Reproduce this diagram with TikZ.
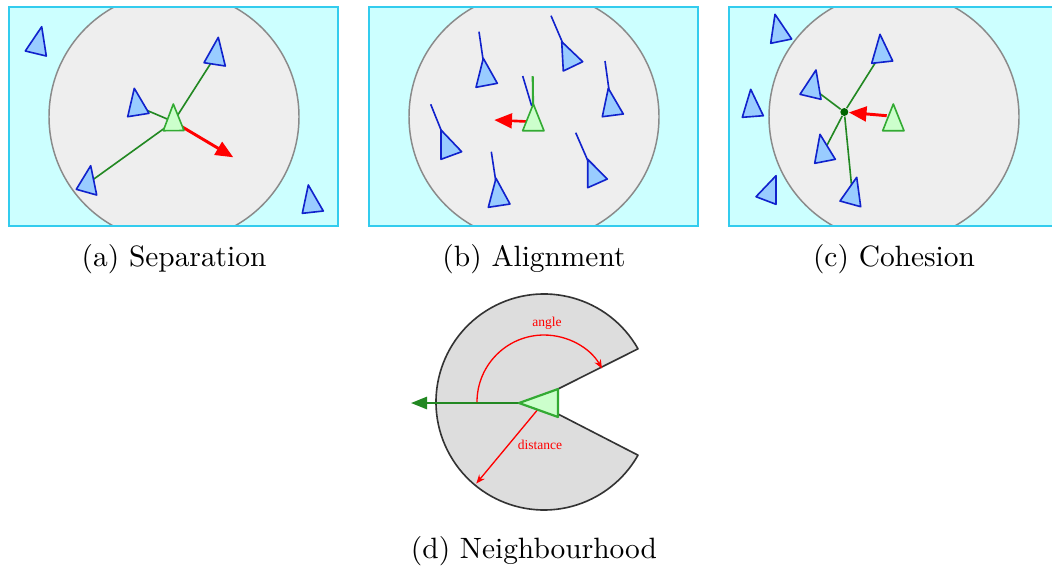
\documentclass[tikz,border=0pt]{standalone}
\usepackage{fontspec}
\newfontfamily\labelfont{Liberation Serif}
\usetikzlibrary{arrows.meta}
\definecolor{bgcyan}{HTML}{CCFFFF}
\definecolor{bordercyan}{HTML}{33CCEE}
\definecolor{circfill}{HTML}{EEEEEE}
\definecolor{circline}{HTML}{8A8A8A}
\definecolor{boidfill}{HTML}{99CCFF}
\definecolor{boidline}{HTML}{1122CC}
\definecolor{gboidfill}{HTML}{CCFFCC}
\definecolor{gboidline}{HTML}{33AA33}
\definecolor{linkgreen}{HTML}{228822}
\definecolor{dotgreen}{HTML}{006600}
\definecolor{pacfill}{HTML}{DDDDDD}
\definecolor{pacline}{HTML}{333333}
\tikzset{
  panelborder/.style={draw=bordercyan, line width=0.7pt},
  zone/.style={fill=circfill, draw=circline, line width=0.5pt},
  boid/.style={fill=boidfill, draw=boidline, line width=0.55pt, line join=round},
  me/.style={fill=gboidfill, draw=gboidline, line width=0.55pt, line join=round},
  link/.style={draw=linkgreen, line width=0.55pt},
  tail/.style={draw=boidline, line width=0.55pt},
  steer/.style={draw=red, line width=1pt, -{Triangle[length=6pt,width=5pt]}},
  heading/.style={draw=linkgreen, line width=0.7pt, -{Triangle[length=5.5pt,width=4.2pt]}},
  measure/.style={draw=red, line width=0.45pt, -{Stealth[length=3pt,width=2.4pt]}},
  pac/.style={fill=pacfill, draw=pacline, line width=0.55pt, line join=round},
  lbl/.style={text=red, font=\labelfont\fontsize{4.6}{5}\selectfont, inner sep=0pt},
  captext/.style={anchor=base, inner sep=0pt, font=\fontsize{10}{12}\selectfont},
}
\begin{document}
\begin{tikzpicture}[x=0.34pt,y=-0.34pt]
\useasboundingbox (0,0) rectangle (1052,568);

% ---------- (a) Separation ----------
\begin{scope}
  \clip (9.3,7.3) rectangle (338,226);
  \fill[bgcyan] (9.3,7.3) rectangle (338,226);
  \draw[zone] (174,116.7) circle[radius=125];
\end{scope}
\draw[panelborder] (9.3,7.3) rectangle (338,226);
\coordinate (ga) at (173.5,121.7);
\coordinate (a2) at (215.9,55.3);
\coordinate (a3) at (137,106.1);
\coordinate (a4) at (87.9,183.3);
\coordinate (gat) at (233.3,157.3);
\draw[link] (ga) -- (a2);
\draw[link] (ga) -- (a3);
\draw[link] (ga) -- (a4);
\draw[steer] (ga) -- (gat);
\draw[boid] (41.7,26.7) -- (25.3,51) -- (46.3,56) -- cycle;
\draw[boid] (218.3,37.3) -- (204,62.7) -- (225.3,66) -- cycle;
\draw[boid] (134.3,88.3) -- (127.7,116.7) -- (149,113.3) -- cycle;
\draw[boid] (90.7,165.7) -- (76.3,189.3) -- (96.7,195) -- cycle;
\draw[boid] (308.3,185) -- (302.3,213.3) -- (323.3,211) -- cycle;
\draw[me] (173.3,104) -- (163.3,130.7) -- (184,130.5) -- cycle;
\node[captext] (capa) at (174,266.5) {(a) Separation};

% ---------- (b) Alignment ----------
\begin{scope}
  \clip (369.3,7.3) rectangle (698,226);
  \fill[bgcyan] (369.3,7.3) rectangle (698,226);
  \draw[zone] (534,116.7) circle[radius=125];
\end{scope}
\draw[panelborder] (369.3,7.3) rectangle (698,226);
\coordinate (b1) at (485.5,76.3);  \coordinate (b1t) at (479,31.7);
\coordinate (b2) at (569.2,58.1);  \coordinate (b2t) at (551,15.7);
\coordinate (b3) at (611.3,106.3); \coordinate (b3t) at (605,61);
\coordinate (b4) at (447.9,147);   \coordinate (b4t) at (430.7,104.3);
\coordinate (b5) at (498.1,196.5); \coordinate (b5t) at (491.3,151.7);
\coordinate (b6) at (594.2,175.3); \coordinate (b6t) at (575.7,132.7);
\coordinate (gb) at (533.3,121.8); \coordinate (gbt) at (532.7,76);
\coordinate (avgs) at (531.7,106); \coordinate (avgt) at (522.7,76);
\coordinate (gbs) at (494.3,120);
\foreach \n in {b1,b2,b3,b4,b5,b6} { \draw[tail] (\n) -- (\n t); }
\draw[tail] (avgs) -- (avgt);
\draw[link, draw=gboidline, line width=0.7pt] (gb) -- (gbt);
\draw[steer, line width=0.9pt] (gb) -- (gbs);
\draw[boid] (483.3,58.3) -- (476,87.3) -- (497.3,83.3) -- cycle;
\draw[boid] (561.7,41.7) -- (563.3,71) -- (582.7,61.7) -- cycle;
\draw[boid] (608.3,88.3) -- (602.3,116.7) -- (623.3,114) -- cycle;
\draw[boid] (441,130) -- (441,159.3) -- (461.7,151.7) -- cycle;
\draw[boid] (496,178.3) -- (488.3,207.3) -- (510,204) -- cycle;
\draw[boid] (587.7,159.3) -- (587.7,187.7) -- (607.3,179) -- cycle;
\draw[me] (533.3,104) -- (522.7,130.7) -- (544,130.7) -- cycle;
\node[captext] (capb) at (534,266.5) {(b) Alignment};

% ---------- (c) Cohesion ----------
\begin{scope}
  \clip (729.3,7.3) rectangle (1052,226);
  \fill[bgcyan] (729.3,7.3) rectangle (1052,226);
  \draw[zone] (894,116.7) circle[radius=125];
\end{scope}
\draw[panelborder] (1052,7.3) -- (729.3,7.3) -- (729.3,226) -- (1052,226);
\coordinate (c2) at (881.5,52.9);
\coordinate (c3) at (812.3,87.9);
\coordinate (c5) at (823.3,152.3);
\coordinate (c6) at (852.5,195);
\coordinate (gcs) at (886.7,115.7);
\node[circle, fill=dotgreen, inner sep=0pt, minimum size=2.7pt] (dc) at (844.3,112) {};
\draw[link] (dc) -- (c2);
\draw[link] (dc) -- (c3);
\draw[link] (dc) -- (c5);
\draw[link] (dc) -- (c6);
\draw[steer] (gcs) -- (dc);
\draw[boid] (775,14.3) -- (770.7,43.3) -- (791.7,39) -- cycle;
\draw[boid] (880,34.3) -- (871.7,63.3) -- (892.7,61) -- cycle;
\draw[boid] (816,70) -- (800,94.3) -- (821,99.3) -- cycle;
\draw[boid] (750.7,89.3) -- (742.3,117.3) -- (763.3,115.7) -- cycle;
\draw[boid] (820,134.3) -- (814.7,163.3) -- (835.3,159.3) -- cycle;
\draw[boid] (856.7,177.3) -- (840,201) -- (860.7,206.7) -- cycle;
\draw[boid] (776,175.7) -- (756,196.7) -- (776,204.3) -- cycle;
\draw[me] (893.3,104) -- (882.7,130.7) -- (904,130.7) -- cycle;
\node[captext] (capc) at (894,266.5) {(c) Cohesion};

% ---------- (d) Neighbourhood ----------
\coordinate (nb) at (544,402);
\coordinate (nbh) at (411,403);
\coordinate (nbd) at (476.3,483.5);
\draw[pac] (558,389) -- (638,348.8) arc[start angle=-29.5, end angle=-330.5, radius=108] -- (558,414) -- cycle;
\draw[heading] (544,403) -- (nbh);
\draw[measure] (477,402) arc[start angle=180, end angle=330, radius=67];
\draw[measure] (nb) -- (nbd);
\draw[me, line width=0.75pt] (519,403) -- (558,389) -- (558,417) -- cycle;
\node[lbl] (angl) at (547,323) {angle};
\node[lbl] (dist) at (540,445) {distance};
\node[captext] (capd) at (534,558) {(d) Neighbourhood};
\end{tikzpicture}
\end{document}
